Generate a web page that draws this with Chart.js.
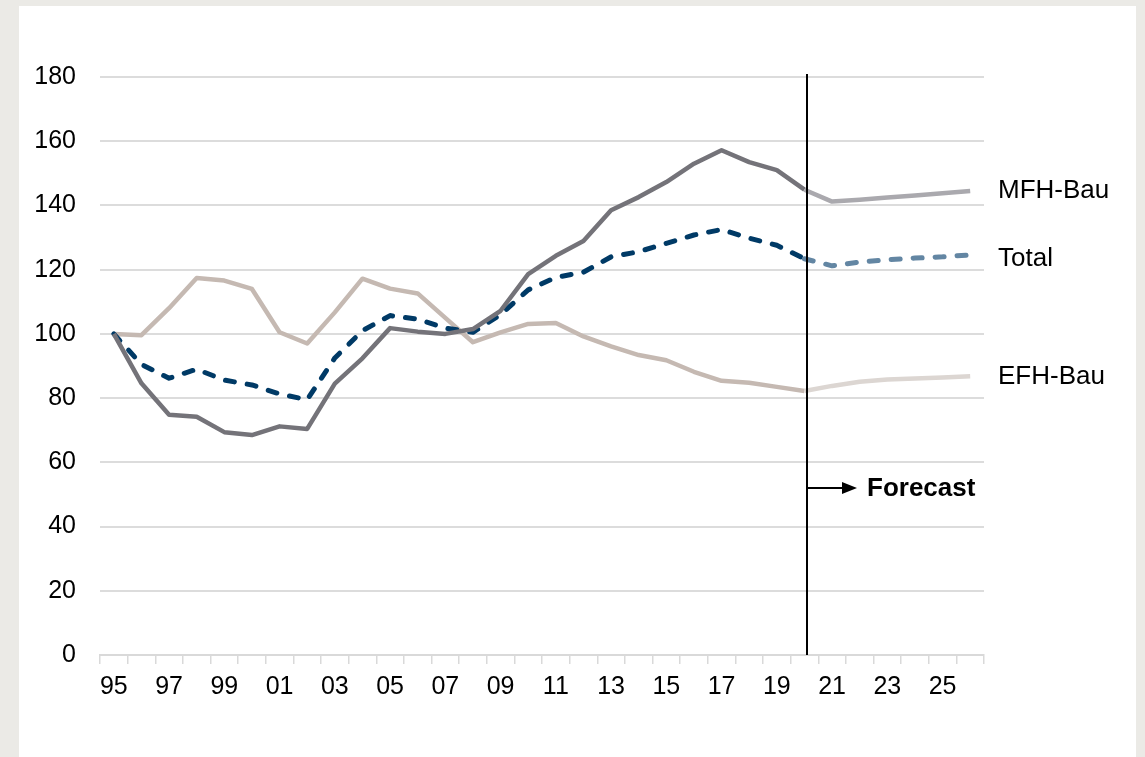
<!DOCTYPE html>
<html>
<head>
<meta charset="utf-8">
<script src="https://cdn.jsdelivr.net/npm/chart.js@4/dist/chart.umd.min.js"></script>
<style>
  html, body { margin: 0; padding: 0; background: #ebeae6; }
  #panel { position: absolute; left: 19px; top: 6px; width: 1117px; height: 751px; background: #fff; }
  #wrap { position: absolute; left: 0; top: 0; width: 1145px; height: 757px; }
</style>
</head>
<body>
<div id="panel"></div>
<div id="wrap"><canvas id="chart"></canvas></div>
<script>
// data
const years = [
  '95', '96', '97', '98', '99', '00', '01', '02', '03', '04', '05',
  '06', '07', '08', '09', '10', '11', '12', '13', '14', '15', '16',
  '17', '18', '19', '20', '21', '22', '23', '24', '25', '26',
];

const mfhBau = [
  100, 84.6, 74.8, 74.2, 69.4, 68.5, 71.2, 70.4, 84.5, 92.4, 101.8,
  100.7, 100, 101.5, 107.2, 118.6, 124.3, 128.9, 138.5, 142.6, 147.3, 153,
  157.2, 153.5, 151, 144.9, 141.2, 141.8, 142.5, 143.1, 143.8, 144.5,
];

const total = [
  100, 90.5, 86.2, 89, 85.6, 84.1, 81.3, 79.5, 92.5, 101, 105.7,
  104.6, 101.8, 100.5, 106, 113.7, 117.6, 119.2, 124, 125.6, 128.2, 130.8,
  132.5, 129.8, 127.6, 123.4, 121.2, 122.4, 123.1, 123.6, 124, 124.6,
];

const efhBau = [
  100, 99.6, 108, 117.4, 116.6, 114, 100.5, 97, 106.7, 117.2, 114.1,
  112.6, 105, 97.4, 100.5, 103.1, 103.4, 99.2, 96.1, 93.4, 91.8, 88.2,
  85.4, 84.8, 83.5, 82.2, 83.8, 85.1, 85.8, 86.1, 86.4, 86.8,
];

const yTicks = [0, 20, 40, 60, 80, 100, 120, 140, 160, 180];
const forecastStart = 25; // index of '20'

const font = 'Liberation Sans, Arial, sans-serif';

function seg(hist, fc) {
  return { borderColor: ctx => (ctx.p0DataIndex >= forecastStart ? fc : hist) };
}

// small vertical nudges for the end labels, same order as datasets
const labelNudge = [0, 4, 1];

const forecastPlugin = {
  id: 'forecast',
  afterDatasetsDraw(chart) {
    const { ctx, scales: { x, y } } = chart;
    const lx = Math.round(x.getPixelForValue(forecastStart)) + 3;
    ctx.save();
    // vertical divider
    ctx.strokeStyle = '#000';
    ctx.lineWidth = 2;
    ctx.beginPath();
    ctx.moveTo(lx, 74);
    ctx.lineTo(lx, y.getPixelForValue(0));
    ctx.stroke();
    // arrow
    const ay = 488;
    ctx.beginPath();
    ctx.moveTo(lx, ay);
    ctx.lineTo(lx + 38, ay);
    ctx.stroke();
    ctx.fillStyle = '#000';
    ctx.beginPath();
    ctx.moveTo(lx + 50, ay);
    ctx.lineTo(lx + 35, ay - 6);
    ctx.lineTo(lx + 35, ay + 6);
    ctx.closePath();
    ctx.fill();
    ctx.font = 'bold 26px ' + font;
    ctx.textBaseline = 'middle';
    ctx.textAlign = 'left';
    ctx.fillText('Forecast', lx + 60, ay + 1);
    // series labels
    ctx.font = '26px ' + font;
    chart.data.datasets.forEach((ds, i) => {
      const v = ds.data[ds.data.length - 1];
      ctx.fillText(ds.label, 998, y.getPixelForValue(v) + labelNudge[i]);
    });
    ctx.restore();
  },
};

const data = {
  labels: years,
  datasets: [
    {
      label: 'MFH-Bau',
      data: mfhBau,
      borderWidth: 4.5,
      borderColor: '#747379',
      segment: seg('#747379', '#aaa9ae'),
    },
    {
      label: 'Total',
      data: total,
      borderWidth: 5,
      borderDash: [9, 13],
      borderCapStyle: 'round',
      borderColor: '#003a66',
      segment: seg('#003a66', '#6386a3'),
    },
    {
      label: 'EFH-Bau',
      data: efhBau,
      borderWidth: 4.5,
      borderColor: '#c5b9b2',
      segment: seg('#c5b9b2', '#dcd6d2'),
    },
  ],
};

const config = {
  type: 'line',
  data,
  plugins: [forecastPlugin],
  options: {
    responsive: true,
    maintainAspectRatio: false,
    animation: false,
    layout: { padding: { top: 77, right: 161, left: 0, bottom: 0 } },
    elements: {
      point: { radius: 0 },
      line: { tension: 0, borderJoinStyle: 'round' },
    },
    plugins: {
      legend: { display: false },
      tooltip: { enabled: false },
    },
    scales: {
      x: {
        offset: true,
        afterFit(scale) { scale.height = 102; },
        grid: {
          offset: true,
          drawOnChartArea: false,
          drawTicks: true,
          tickLength: 9,
          color: '#d9d9d9',
          lineWidth: 1.5,
        },
        border: { display: true, color: '#d9d9d9', width: 2 },
        ticks: {
          autoSkip: false,
          maxRotation: 0,
          padding: 8,
          color: '#000',
          font: { family: font, size: 25 },
          callback: (val, i) => (i % 2 === 0 ? years[i] : ''),
        },
      },
      y: {
        min: 0,
        max: 180,
        afterFit(scale) { scale.width = 100; },
        afterBuildTicks(scale) { scale.ticks = yTicks.map(v => ({ value: v })); },
        grid: { drawTicks: false, color: '#dcdcdc', lineWidth: 2 },
        border: { display: false },
        ticks: {
          padding: 24,
          color: '#000',
          font: { family: font, size: 25 },
        },
      },
    },
  },
};

new Chart(document.getElementById('chart'), config);
</script>
</body>
</html>
